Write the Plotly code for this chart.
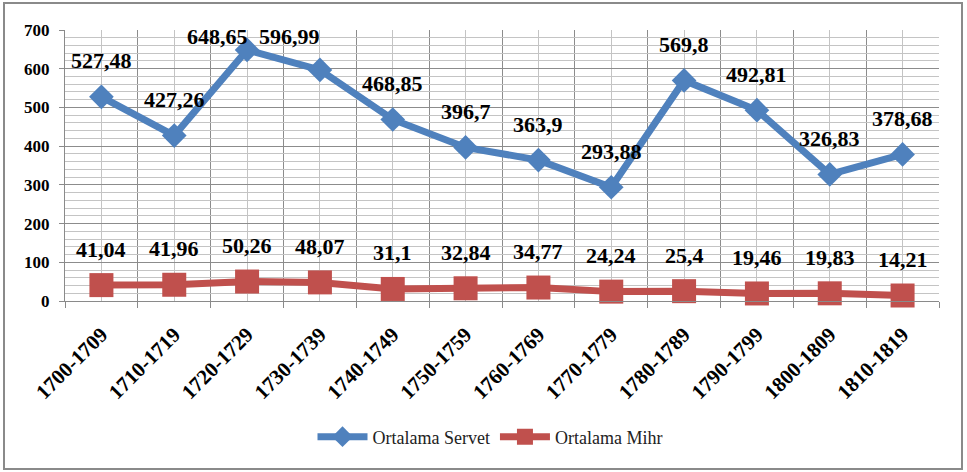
import plotly.graph_objects as go

categories = ["1700-1709", "1710-1719", "1720-1729", "1730-1739", "1740-1749", "1750-1759",
              "1760-1769", "1770-1779", "1780-1789", "1790-1799", "1800-1809", "1810-1819"]
servet = [527.48, 427.26, 648.65, 596.99, 468.85, 396.7, 363.9, 293.88, 569.8, 492.81, 326.83, 378.68]
mihr = [41.04, 41.96, 50.26, 48.07, 31.1, 32.84, 34.77, 24.24, 25.4, 19.46, 19.83, 14.21]
servet_labels = ["527,48", "427,26", "648,65", "596,99", "468,85", "396,7", "363,9", "293,88", "569,8", "492,81", "326,83", "378,68"]
mihr_labels = ["41,04", "41,96", "50,26", "48,07", "31,1", "32,84", "34,77", "24,24", "25,4", "19,46", "19,83", "14,21"]

BLUE = "#4F81BD"
RED = "#C0504D"
FONT = "'Liberation Serif', 'DejaVu Serif', serif"

W, H = 967, 472
L, R, T, B = 65, 28, 30, 171
plot_w = W - L - R
plot_h = H - T - B
YMAX = 700

idx = list(range(len(categories)))

fig = go.Figure()
fig.add_trace(go.Scatter(
    x=idx, y=servet, mode="lines+markers", name="Ortalama Servet",
    line=dict(color=BLUE, width=7),
    marker=dict(symbol="diamond", size=19, color=BLUE),
    cliponaxis=False,
))
fig.add_trace(go.Scatter(
    x=idx, y=mihr, mode="lines+markers", name="Ortalama Mihr",
    line=dict(color=RED, width=7),
    marker=dict(symbol="square", size=24, color=RED),
    cliponaxis=False,
))

annotations = []
for series, labels in ((servet, servet_labels), (mihr, mihr_labels)):
    for i, (v, t) in enumerate(zip(series, labels)):
        py = T + (YMAX - v) / YMAX * plot_h
        ly = py - 36
        xs = 0
        if ly < 36:
            ly = 36
            xs = -30
        annotations.append(dict(
            x=i, y=v, xref="x", yref="y", text="<b>" + t + "</b>", showarrow=False,
            yshift=py - ly, xshift=xs,
            font=dict(family=FONT, size=22, color="black"),
        ))

def px_to_paper_x(px):
    return (px - L) / plot_w

def py_to_paper_y(py):
    return (T + plot_h - py) / plot_h

shapes = [dict(
    type="rect", xref="paper", yref="paper",
    x0=px_to_paper_x(4), x1=px_to_paper_x(962),
    y0=py_to_paper_y(469), y1=py_to_paper_y(3),
    line=dict(color="#8a8a8a", width=2), fillcolor="rgba(0,0,0,0)", layer="below",
)]

boundaries = [i - 0.5 for i in range(len(categories) + 1)]

fig.update_layout(
    width=W, height=H,
    margin=dict(l=L, r=R, t=T, b=B),
    paper_bgcolor="white", plot_bgcolor="white",
    annotations=annotations,
    shapes=shapes,
    showlegend=True,
    legend=dict(
        orientation="h", x=px_to_paper_x(490), y=py_to_paper_y(437),
        xanchor="center", yanchor="middle",
        font=dict(family=FONT, size=18, color="#222"),
        itemwidth=50,
    ),
    xaxis=dict(
        range=[-0.5, len(categories) - 0.5],
        tickmode="array", tickvals=idx, ticktext=["<b>" + c + "</b>" for c in categories],
        tickangle=-45,
        tickfont=dict(family=FONT, size=21, color="black"),
        showgrid=True, gridcolor="#c4c4c4", gridwidth=1,
        ticks="", zeroline=False,
        showline=True, linecolor="#8a8a8a", linewidth=1,
        ticklabelstandoff=12,
        minor=dict(tickmode="array", tickvals=boundaries, showgrid=True,
                   gridcolor="#8c8c8c", gridwidth=1,
                   ticks="outside", ticklen=6, tickcolor="#8a8a8a"),
    ),
    yaxis=dict(
        range=[0, YMAX],
        tickvals=list(range(0, YMAX + 1, 100)),
        ticktext=["<b>%d</b>" % v for v in range(0, YMAX + 1, 100)],
        tickfont=dict(family=FONT, size=17, color="black"),
        showgrid=True, gridcolor="#8c8c8c", gridwidth=1,
        ticks="outside", ticklen=5, tickcolor="#8a8a8a",
        ticklabelstandoff=6,
        zeroline=False,
        showline=True, linecolor="#8a8a8a", linewidth=1,
        minor=dict(dtick=20, showgrid=True, gridcolor="#c4c4c4", gridwidth=1),
    ),
)

fig.write_html("out.html", config={"displayModeBar": False},
               post_script="document.body.style.margin='0';")
